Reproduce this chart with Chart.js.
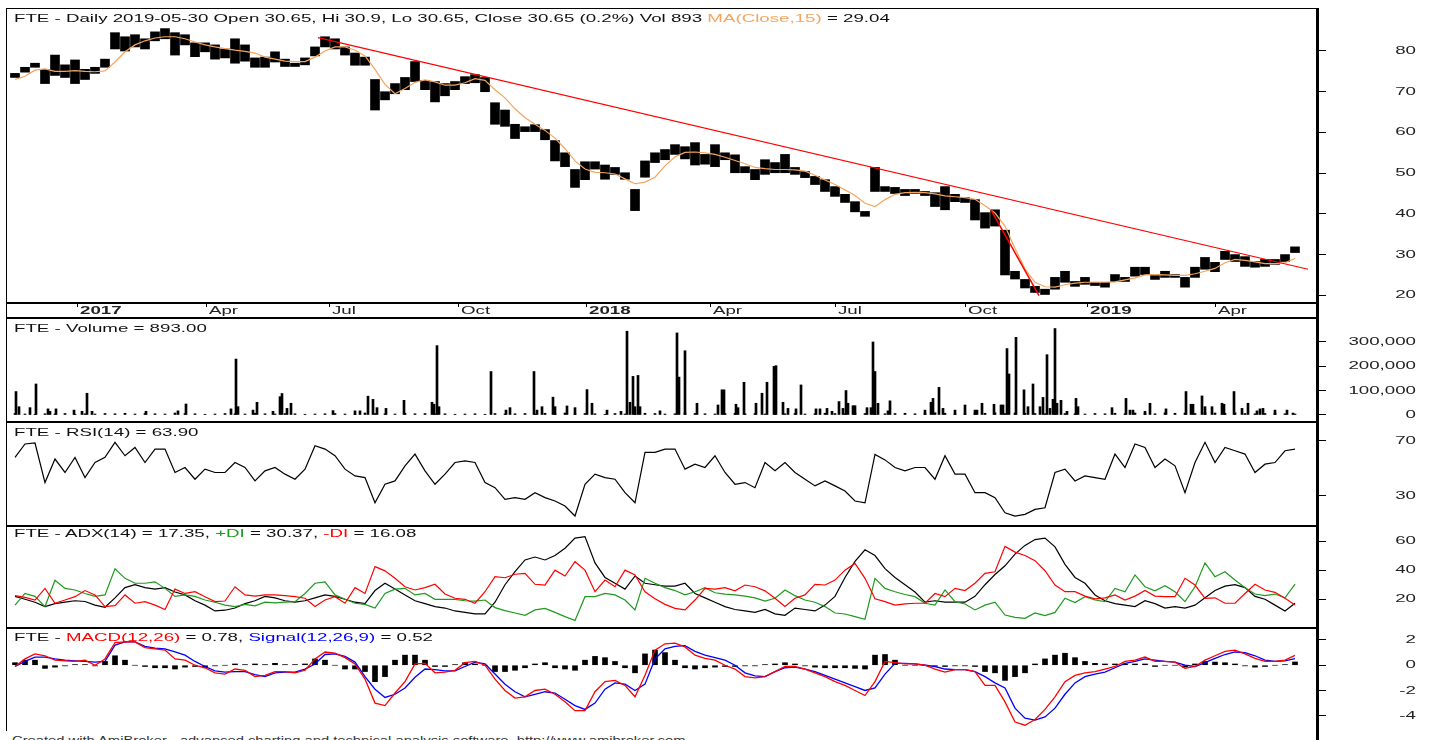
<!DOCTYPE html>
<html>
<head>
<meta charset="utf-8">
<script src="https://cdn.jsdelivr.net/npm/chart.js@4.4.1/dist/chart.umd.min.js"></script>
<style>
body { margin: 0; background: #fff; }
#wrap { position: relative; width: 1442px; height: 740px; overflow: hidden; background: #fff; font-family: "Liberation Sans", Arial, sans-serif; }
#wrap canvas { position: absolute; left: 0; }
.ttl { position: absolute; left: 14px; font-size: 11px; line-height: 12px; color: #111; white-space: nowrap; transform: scaleX(1.7); transform-origin: 0 50%; }
.ln { position: absolute; background: #000; }
</style>
</head>
<body>
<div id="wrap">
  <canvas id="cPrice" width="1442" height="310" style="top:8px"></canvas>
  <canvas id="cVol" width="1442" height="103" style="top:319px"></canvas>
  <canvas id="cRsi" width="1442" height="104" style="top:422px"></canvas>
  <canvas id="cAdx" width="1442" height="102" style="top:526px"></canvas>
  <canvas id="cMacd" width="1442" height="103" style="top:628px"></canvas>

  <div class="ln" style="left:6px;top:8px;width:1311px;height:1px"></div>
  <div class="ln" style="left:6px;top:8px;width:1px;height:723px"></div>
  <div class="ln" style="left:6px;top:302px;width:1311px;height:2px"></div>
  <div class="ln" style="left:6px;top:317px;width:1311px;height:2px"></div>
  <div class="ln" style="left:6px;top:421px;width:1311px;height:2px"></div>
  <div class="ln" style="left:6px;top:525px;width:1311px;height:2px"></div>
  <div class="ln" style="left:6px;top:627px;width:1311px;height:2px"></div>
  <div class="ln" style="left:1316px;top:8px;width:3px;height:732px"></div>

  <div class="ttl" style="top:12px">FTE - Daily 2019-05-30 Open 30.65, Hi 30.9, Lo 30.65, Close 30.65 (0.2%) Vol 893 <span style="color:#f6a45e">MA(Close,15)</span> = 29.04</div>
  <div class="ttl" style="top:322px">FTE - Volume = 893.00</div>
  <div class="ttl" style="top:426px">FTE - RSI(14) = 63.90</div>
  <div class="ttl" style="top:527px">FTE - ADX(14) = 17.35, <span style="color:#1e9a1e">+DI</span> = 30.37, <span style="color:#ff0000">-DI</span> = 16.08</div>
  <div class="ttl" style="top:631px">FTE - <span style="color:#ff0000">MACD(12,26)</span> = 0.78, <span style="color:#0000ff">Signal(12,26,9)</span> = 0.52</div>
  <div class="ttl" style="top:734px;left:12px;color:#333;transform:scaleX(1.34)">Created with AmiBroker - advanced charting and technical analysis software. http://www.amibroker.com</div>
</div>

<script>
// one sample every ~5 trading days, Dec 2016 .. 2019-05-30
var priceHi = [74.5,76,77,75.5,79,76.6,77.8,75.5,76,78,
  84.5,83.5,84,83,84.7,85.5,84.5,84,82,82,
  81.5,80.5,83,81.5,78.3,78.5,79.8,78,77,78.3,
  81,83.5,83,81,79.5,78.5,73,70,72,73.5,
  77.4,72.8,72.5,72,72.5,73.7,74.2,73.5,67.3,65.5,
  62,61.4,61.9,60.7,58,55,50.9,52.8,52.8,52,
  51.4,50.1,46,53,55,55.8,57,56.5,57.5,54.6,
  57,55,54.5,51.6,50.9,53.3,52.6,54.6,51.4,50.4,
  49.2,48.4,46.7,44.8,43,40.6,51.4,46.7,46.5,46,
  46,45.5,45.2,46.7,44.8,44,43.5,40.3,41,36,
  25.9,23.9,22.2,21.5,24.4,25.9,23.4,24.4,23.2,23.2,
  25.1,24.4,26.9,26.9,25.1,25.9,25.1,24.4,26.9,29.3,
  28.1,30.8,30,29.5,28.3,28.8,28.8,30,31.9];
var priceLo = [73.5,74.8,76,72,74,73.5,72,73,74.5,76,
  80.5,80,81,80.5,82.5,83,79,81.5,78.6,79.8,
  78,78.3,77,77.5,76,76,77.3,76.2,76.2,76.6,
  78.8,81,80.5,79,76.5,76.5,65.5,68,69.5,70.5,
  72.5,70.5,67.5,69,70.5,72,72.2,70,62,61.5,
  58.5,60.2,60.2,58.2,53,51.6,46.5,48.4,51,48.5,
  49.7,48.5,40.8,49,52.6,53.3,54.6,53.5,52,52.2,
  51.6,53.3,50.1,50.1,48.4,49.7,50.1,50.1,49.7,48.9,
  47.2,45.5,44.3,42.8,40.5,39.4,45.5,45.5,45,44.5,
  45,44.5,41.8,41,43,42.8,38.5,36.5,37,25,
  24,21.8,20.7,20.2,21.5,23.2,22.2,22.7,22.4,22,
  23.4,23.4,24.7,25.1,23.9,24.4,24.4,22,24.4,26.4,
  25.8,28.8,28.3,27.1,26.9,27.1,27.6,28.3,30.5];
var maClose = [73,73.8,75.3,75.6,75,75,75.2,75,74.9,75.1,
  77.3,79.8,81.5,82.5,83.2,83.5,83.5,83,82.2,81.5,
  81,80.6,80.2,79.9,79.5,78.5,78,77.5,77.4,77.4,
  78.5,80,81,81,80.2,78.8,75.5,71.8,69.5,70.8,
  72.3,72.9,72.4,71.6,71.6,72.2,73.2,72.8,70.5,68.5,
  65.8,63.6,62,60.5,58.6,56,53,51,50.2,50.1,
  49.8,48.6,47.4,47.8,49,51.8,54,55.1,55.2,55,
  54.6,53.9,53.1,52.3,51.4,51.1,50.9,50.9,50.8,50.5,
  49.5,48.3,47.2,45.9,44.5,42.6,41.8,43.5,44.8,45.2,
  45.3,45.2,44.9,44.4,44.2,44,43.6,42,40.2,37,
  31.5,26.5,23.2,22.1,22,22.6,23,23.2,23.2,23.2,
  23.3,23.8,24.3,25,25.1,25,24.9,24.9,25.3,25.9,
  26.6,28,28.8,28.6,28.2,27.8,27.8,28,29.04];
// hand-drawn trendlines (sample index, price)
var trendA = [[30.3, 83.3], [129.3, 26.4]];
var trendB = [[97.6, 41.0], [102.4, 19.9]];

// volume in thousands: quiet days plus the spikes
var volBase = [6,4,3,5,4,6,3,5,4,6, 5,7,4,6,5,4,8,6,5,3,
  4,6,5,4,7,5,4,6,5,3, 4,5,6,4,3,8,6,5,4,7,
  5,6,4,5,3,4,5,3,6,4, 5,6,4,7,5,8,4,6,5,3,
  6,4,5,7,6,4,5,8,6,5, 4,6,7,5,6,4,8,5,6,4,
  5,7,6,5,8,6,4,5,6,7, 5,6,9,7,5,6,8,7,9,6,
  8,7,6,5,4,6,5,4,6,5, 7,5,8,6,5,9,7,8,6,10,
  8,7,9,6,5,6,7,5,4];
var volAt = [0.1,0.4,1.5,2.1,3.3,3.5,4.1,5.9,6.7,7.2,7.7,13.1,16.3,17.1,21.6,22.1,22.3,23.8,24.2,25.8,
  26.5,26.7,27.2,27.6,31.8,34,34.5,35.3,35.8,36.2,37.1,38.9,41.7,41.9,42.2,42.4,
  47.6,49.1,49.5,51.9,52.2,52.7,53.8,54,55.2,56,57.2,57.7,59.2,60.6,61.2,61.5,61.8,62,62.3,62.5,
  64.5,66.2,66.4,67,68.2,70.3,70.7,70.9,72.1,72.3,72.9,74.1,74.7,75.2,75.9,76.1,76.8,77.3,78.1,78.6,
  80.1,80.5,81.2,81.7,82.4,82.8,83.1,83.3,83.8,84,85.2,85.6,85.8,86,86.3,87.3,
  87.5,91,91.6,91.8,92.4,92.8,94,95,96,96.2,96.7,97.9,98.6,98.8,99.2,99.4,100.1,100.9,101.3,101.8,
  102.5,102.8,103.2,103.5,103.8,104,104.2,104.6,105.2,106.1,106.3,109.7,111.1,111.5,111.8,113,113.5,
  115.1,117.1,117.6,117.8,118.7,119,119.7,120.7,120.9,121.9,122.7,123.3,124.2,124.5,124.8,126,127.2,127.8];
var volK = [96,34,30,127,25,15,25,20,15,89,15,15,17,45,25,229,34,20,52,15,
  75,88,27,48,18,17,17,77,64,30,27,60,52,44,284,34,
  178,20,30,178,20,34,73,34,37,30,104,48,20,15,343,52,158,34,162,34,
  17,336,155,263,48,41,103,103,44,30,134,48,89,134,199,202,52,27,25,123,
  25,25,27,15,55,27,100,48,38,38,30,30,299,178,48,17,
  58,20,52,68,113,27,20,41,20,20,48,44,41,41,272,168,318,103,34,127,
  34,72,247,27,64,354,48,60,15,68,34,30,68,20,20,15,48,
  25,96,44,44,78,34,34,48,44,96,27,48,17,25,27,20,20,8];

var rsi = [57.9,67.6,68.3,39.7,56.7,47,57.9,43.3,54.2,57.9,
  68.8,59.1,65.1,54.2,63.9,63.9,47,50.6,42.1,49.4,
  47,47,54.2,50.6,40.9,48.2,50.6,45.8,42.1,49.4,
  66.4,63.9,59.1,49.4,44.5,43.3,25.1,38.5,40.9,51.8,
  60.3,48.2,38.5,45.8,54.2,55.4,54.2,39.7,36,27.6,
  28.8,27.6,32.4,28.8,26.4,22.7,15.5,38.5,45.8,43.3,
  42.1,32.4,25.1,61.5,61.5,63.9,63.9,49.4,53,50.6,
  59.1,47,38.5,39.7,36,54.2,48.2,54.2,47,42.1,
  37.3,40.9,37.3,33.6,26.4,25.1,60,56.1,50.6,48.2,
  50.6,50.6,42.1,59.1,45.8,45.8,32.4,32.4,28.8,17.9,
  15.5,16.7,20.3,21.5,47,49.4,40.9,44.5,43.3,42.1,
  60.3,50.6,67.6,65.1,50.6,56.7,51.8,32.4,54.2,68.8,
  54.2,65.1,62.7,60.3,47,53,54.2,62.7,63.9];

var adx = [22,20,18,15,17,18,19,18.5,16,14.5,
  21,28,30,28,27,28,25,23,19,16,
  12,12.5,14,17,19,22,21,19,18,19,
  21,23,22,20,18,17,26,31,27,23,
  19,17,15,14,12,11,10,10,18,30,
  39,47,49,47,50,55,62,63,45,35,
  31,27,36,31,30,29,29,31,24,21,
  18,15,13,12,11,13,10,9,14,13,
  12,16,22,35,46,54,50,41,35,30,
  25,18,19,18,18,18,22,30,37,43,
  51,57,61,62,56,44,35,31,23,19,
  17,16,15,19,17,14,15,14,16,21,
  26,29,30,28,22,20,16,12,17.35];
var plusDI = [16,24,22,15,33,27.5,26.4,24,22,23,
  41,34.4,31,31,32,27.5,22,23,22,19.5,
  18,16,15,16.5,15.5,18,17.5,18,18.4,24,
  31,32,23,20,17.3,16.5,14,24,27,27.5,
  23,24,20,20,20,19,18.8,19.5,14.3,12.2,
  10.6,9,12.7,13.8,11,8.1,5.4,21.8,21.8,24,
  23,19.5,12.7,34.4,31,28,26,23,25.2,28,
  24.5,23.6,23,22.2,21,18.8,20.7,26.4,22.5,19.5,
  18,15,10.6,9.9,8.1,6.3,34.4,27.5,25.2,23.3,
  21.8,17.3,16,26.4,18.4,16.8,12.7,16,18,9.2,
  7.6,6.9,10.6,8.8,11,20.7,17.8,21.8,19.5,18.4,
  27.5,25.2,36.7,28.6,25.8,29.3,25.2,18.4,28.6,45,
  35.5,38.9,33.2,28,23.6,22.5,23.6,21,30.37];
var minusDI = [22.5,21.3,19.5,27.5,17.3,19.5,21.8,26,23,15,
  15.7,23,17.3,18.4,16,13,27,24,25.2,21.8,
  18.4,18.8,28.6,23,22.2,23,23,22.5,21.8,20.7,
  15,19.5,21.8,17.3,28,24,42.4,39.5,34.4,28.6,
  26.4,28,30.3,23.6,20.7,20,17.3,25.2,35.5,34.8,
  37.2,37.8,30.3,29.8,40,36,45.8,40,25.2,33.2,
  28.6,40,36.7,25.2,20.3,16.5,13.8,12.7,19.5,27.5,
  27,28,25.8,29.8,28.6,25.8,20.7,15,20.7,23,
  30.3,29.8,33.2,40,44.6,34.4,20.3,18.4,16,16.8,
  17.3,17.3,24,21.8,27.5,26,31,37.8,38.9,56.3,
  52.4,50.1,46.5,39.6,29.8,25.2,25.2,22.2,20.3,21,
  23,19.5,22.2,26,22.2,21.8,21.8,34.4,29.8,20.7,
  21,17.3,17.3,24,30.3,26.4,24.8,20.7,16.08];

var macd = [-0.1,0.5,0.9,0.75,0.4,0.35,0.3,0.4,0,0.5,
  1.8,1.85,1.85,1.4,1.3,1.2,0.5,0.4,0,-0.2,
  -0.6,-0.7,-0.3,-0.4,-0.9,-0.8,-0.5,-0.5,-0.6,-0.4,
  0.5,1.05,0.95,0.6,0.1,-1.1,-3,-3.2,-2.2,-1.3,
  0.1,0.15,-0.6,-0.55,-0.4,0.2,0.3,0,-1.1,-2,
  -2.6,-2.5,-2,-1.9,-2.3,-2.9,-3.6,-3.6,-2.1,-1.3,
  -1.2,-1.6,-2.5,-0.8,1.2,1.7,1.75,1.45,0.8,0.55,
  0.4,0,-0.3,-0.9,-1,-0.9,-0.5,-0.1,-0.1,-0.3,
  -0.6,-0.9,-1.3,-1.6,-2,-2.4,-1.3,0.3,0.2,0.1,
  0.1,0,-0.3,-0.55,-0.35,-0.35,-0.5,-1.6,-1.6,-2.9,
  -4.5,-4.75,-4.3,-3.5,-2.5,-1.3,-0.8,-0.6,-0.5,-0.3,
  -0.1,0.3,0.4,0.65,0.3,0.3,0.25,-0.25,-0.1,0.4,
  0.75,1.1,1.2,0.9,0.55,0.3,0.3,0.4,0.78];
var signal = [-0.1,0.3,0.65,0.65,0.5,0.4,0.35,0.3,0.25,0.3,
  1.6,1.85,1.85,1.5,1.35,1.3,1.05,0.8,0.3,-0.1,
  -0.45,-0.55,-0.5,-0.5,-0.75,-0.9,-0.6,-0.55,-0.55,-0.3,
  0.1,0.85,0.9,0.7,0.25,-0.9,-1.9,-2.55,-2.3,-1.8,
  -0.95,-0.3,-0.35,-0.45,-0.45,-0.1,0.25,0.1,-0.7,-1.5,
  -2.1,-2.5,-2.3,-2.1,-2.2,-2.7,-3.2,-3.5,-3,-1.9,
  -1.4,-1.5,-2,-1.5,0.5,1.3,1.5,1.55,1.1,0.8,
  0.6,0.4,0,-0.6,-0.85,-0.9,-0.5,-0.2,-0.15,-0.3,
  -0.5,-0.8,-1.1,-1.4,-1.7,-2,-1.8,-0.7,0.15,0.15,
  0.1,0,-0.1,-0.3,-0.35,-0.35,-0.5,-0.9,-1.4,-1.8,
  -3.4,-4.2,-4.35,-4.1,-3.4,-2.3,-1.4,-0.9,-0.7,-0.55,
  -0.2,0.15,0.3,0.5,0.4,0.3,0.25,0,-0.1,0.2,
  0.55,0.85,1.05,1,0.75,0.4,0.3,0.35,0.52];
var macdHist = [0.2,0.4,0.4,-0.25,-0.15,-0.05,0.05,0.05,-0.05,0.3,
  0.75,0.4,0,-0.1,-0.2,-0.2,-0.3,-0.15,-0.1,-0.2,
  -0.05,0,0.1,0.05,0.1,0.05,0.15,0.05,0.05,0.1,
  0.5,0.4,0,-0.3,-0.3,-0.5,-1.3,-0.9,0.4,0.8,
  0.8,0.4,-0.1,-0.1,0.05,0.2,0.1,0,-0.5,-0.5,
  -0.4,-0.2,0.1,0.2,-0.2,-0.3,-0.4,0.4,0.7,0.6,
  0.3,-0.2,-0.6,0.9,1.2,1,0.4,-0.2,-0.3,-0.2,
  -0.15,-0.1,-0.1,-0.05,-0.05,0.05,0.1,0.2,0.1,-0.05,
  -0.15,-0.2,-0.2,-0.2,-0.25,-0.3,0.8,0.85,0.4,0,
  0,0,-0.05,-0.1,-0.05,-0.05,-0.1,-0.5,-0.6,-1.2,
  -0.9,-0.6,0.1,0.5,0.8,0.95,0.6,0.3,0.15,0.1,
  0.1,0.1,0.1,0.1,-0.1,0,0,-0.15,0.1,0.3,
  0.25,0.2,0.1,-0.05,-0.15,-0.1,0,0.05,0.26];

// axis ticks
var monthIdx = [6.2, 19.1, 31.4, 44.3, 57.1, 69.5, 82, 95, 107.2, 120];
var monthTxt = ['2017', 'Apr', 'Jul', 'Oct', '2018', 'Apr', 'Jul', 'Oct', '2019', 'Apr'];
var monthBold = [true, false, false, false, true, false, false, false, true, false];
var priceTicks = [20, 30, 40, 50, 60, 70, 80];
var volTicks = [0, 100000, 200000, 300000];
var rsiTicks = [30, 70];
var adxTicks = [20, 40, 60];
var macdTicks = [-4, -2, 0, 2];

var X_MIN = -0.9, X_MAX = 130.2;
var AXIS_SX = 1.7;   // the reference text is stretched sideways

function xy(arr) {
    return arr.map(function(v, i) { return { x: i, y: v }; });
}

function wideText(ctx, txt, x, y, align, font, sx) {
    ctx.save();
    ctx.font = font;
    ctx.fillStyle = '#222';
    ctx.textBaseline = 'middle';
    ctx.textAlign = 'left';
    var w = ctx.measureText(txt).width * sx;
    ctx.translate(align === 'right' ? x - w : x, y);
    ctx.scale(sx, 1);
    ctx.fillText(txt, 0, 0);
    ctx.restore();
}

function labelPlugin(vals, comma, withDates) {
    return {
        id: 'axisText',
        afterDraw: function(chart) {
            var ctx = chart.ctx, ys = chart.scales.y, xs = chart.scales.x;
            vals.forEach(function(v) {
                var t = comma ? v.toLocaleString('en-US') : String(v);
                wideText(ctx, t, 1416, ys.getPixelForValue(v), 'right', '11px "Liberation Sans"', AXIS_SX);
            });
            if (withDates) {
                monthIdx.forEach(function(m, k) {
                    var f = (monthBold[k] ? 'bold ' : '') + '11px "Liberation Sans"';
                    wideText(ctx, monthTxt[k], xs.getPixelForValue(m) + 3, chart.chartArea.bottom + 8, 'left', f, AXIS_SX);
                });
            }
        }
    };
}

function panel(id, yMin, yMax, yTicks, comma, datasets, withDates) {
    var xScale = {
        type: 'linear', min: X_MIN, max: X_MAX, offset: false,
        display: !!withDates, position: 'bottom',
        grid: { offset: false, drawOnChartArea: false, drawTicks: true, tickLength: 4, color: '#000' },
        border: { display: false },
        ticks: { display: false },
        afterBuildTicks: function(s) { s.ticks = monthIdx.map(function(v) { return { value: v }; }); }
    };
    if (withDates) {
        xScale.afterFit = function(s) { s.height = 15; };
    }
    return new Chart(document.getElementById(id), {
        type: 'bar',
        data: { datasets: datasets },
        options: {
            responsive: false,
            animation: false,
            devicePixelRatio: 1,
            events: [],
            layout: { padding: { left: 6, right: 0, top: 0, bottom: 0 } },
            plugins: { legend: { display: false }, tooltip: { enabled: false } },
            elements: { point: { radius: 0 }, line: { tension: 0 } },
            scales: {
                x: xScale,
                y: {
                    position: 'right', min: yMin, max: yMax, beginAtZero: false,
                    grid: { drawOnChartArea: false, drawTicks: true, tickLength: 9, color: '#000' },
                    border: { display: false },
                    ticks: { display: false },
                    afterBuildTicks: function(s) { s.ticks = yTicks.map(function(v) { return { value: v }; }); },
                    afterFit: function(s) { s.width = 125; }
                }
            }
        },
        plugins: [labelPlugin(yTicks, comma, withDates)]
    });
}

function line(data, color, width, order) {
    return { type: 'line', data: data, borderColor: color, borderWidth: width, pointRadius: 0, fill: false, order: order };
}

// price pane
panel('cPrice', 18.11, 90.56, priceTicks, false, [
    line(trendA.map(function(p) { return { x: p[0], y: p[1] }; }), '#ff0000', 1.2, 0),
    line(trendB.map(function(p) { return { x: p[0], y: p[1] }; }), '#ff0000', 1.5, 0),
    line(xy(maClose), '#f6a45e', 1.2, 1),
    {
        type: 'bar', order: 2, grouped: false, barThickness: 9, backgroundColor: '#000', borderWidth: 0,
        data: priceHi.map(function(h, i) { return { x: i, y: [priceLo[i], h] }; })
    }
], true);

// volume pane
var volData = xy(volBase).map(function(p) { return { x: p.x, y: p.y * 1000 }; });
volAt.forEach(function(at, k) { volData.push({ x: at, y: volK[k] * 1000 }); });
panel('cVol', -28700, 393000, volTicks, true, [
    { type: 'bar', grouped: false, barThickness: 2, backgroundColor: '#000', borderWidth: 0, data: volData }
], false);

// RSI pane
panel('cRsi', 8.3, 83.5, rsiTicks, false, [ line(xy(rsi), '#000', 1.2, 0) ], false);

// ADX pane
panel('cAdx', 0.3, 70.3, adxTicks, false, [
    line(xy(adx), '#000', 1.2, 2),
    line(xy(plusDI), '#1e9a1e', 1.2, 1),
    line(xy(minusDI), '#ff0000', 1.2, 0)
], false);

// MACD pane
panel('cMacd', -5.21, 2.95, macdTicks, false, [
    line(xy(macd), '#ff0000', 1.3, 0),
    line(xy(signal), '#0000ff', 1.3, 1),
    { type: 'bar', order: 2, grouped: false, barThickness: 5, backgroundColor: '#000', borderWidth: 0, data: xy(macdHist) }
], false);
</script>
</body>
</html>
